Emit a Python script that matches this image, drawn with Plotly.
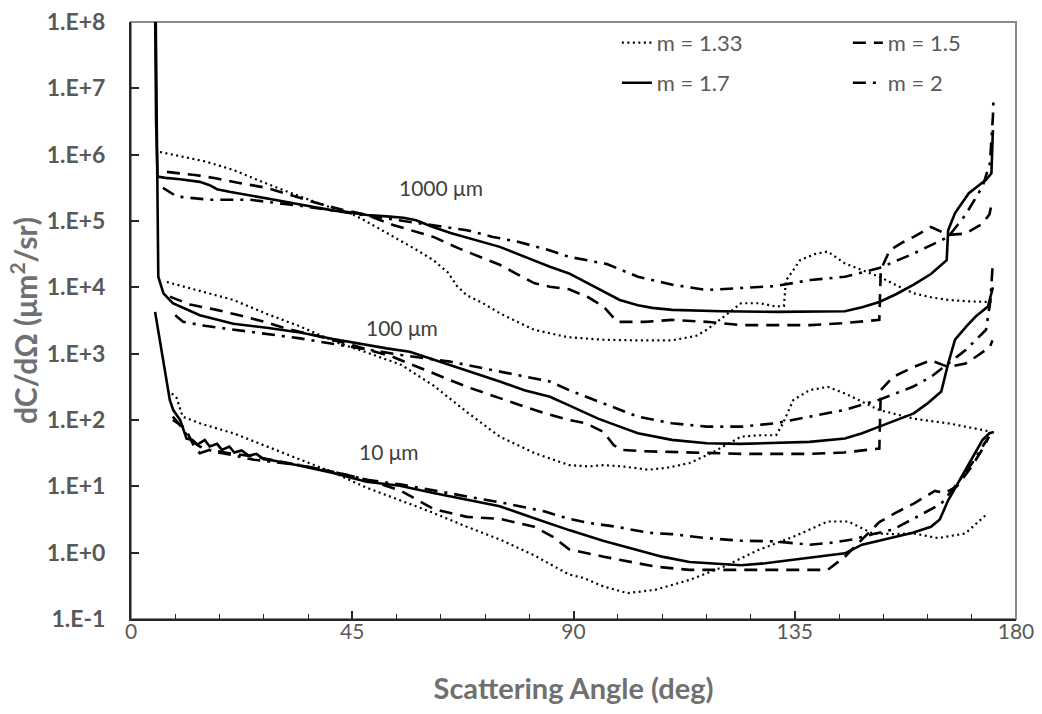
import plotly.graph_objects as go

# ---------------- data (angle in deg, log10 of dC/dΩ in µm²/sr) ----------------
# 1000 µm
ang_1000_m133 = [5.9, 10, 15, 20.8, 27, 34.4, 40, 44.5, 47, 51.3, 54.7, 58.2, 61.5, 64.5, 66.3, 68.3, 71.6, 75, 78, 82,
                 88.7, 96, 103, 110, 115, 117.1, 120.6, 124.1, 128, 131.2, 132.8, 133.2, 136.1, 139, 141.7, 145.2,
                 148.7, 152.2, 155.7, 159.2, 162.7, 166.2, 170, 173.9, 175]
lg_1000_m133 = [6.04, 5.98, 5.90, 5.77, 5.58, 5.37, 5.22, 5.12, 5.03, 4.85, 4.71, 4.56, 4.41, 4.22, 4.02, 3.88, 3.76,
                3.61, 3.50, 3.36, 3.25, 3.21, 3.20, 3.20, 3.27, 3.36, 3.56, 3.76, 3.76, 3.71, 3.72, 4.10, 4.41, 4.50,
                4.54, 4.36, 4.26, 4.16, 4.03, 3.91, 3.85, 3.81, 3.79, 3.78, 3.79]

ang_1000_m15 = [7.3, 13.4, 17.5, 21.5, 27.6, 32, 37.8, 43, 48, 53.3, 57, 61.5, 66.9, 71, 75, 78.5, 82.1, 85.2, 89.1,
                93, 96.1, 98.9, 104.5, 110.1, 117.1, 124.1, 131, 138.2, 145, 152.2, 152.5, 154.3, 157, 159.2, 162.7,
                166.2, 169.7, 173.2, 174.6, 175.2]
lg_1000_m15 = [5.74, 5.69, 5.64, 5.58, 5.50, 5.40, 5.27, 5.17, 5.09, 4.94, 4.86, 4.76, 4.58, 4.46, 4.34, 4.20, 4.06,
               4.01, 3.97, 3.85, 3.71, 3.48, 3.48, 3.51, 3.48, 3.43, 3.43, 3.43, 3.46, 3.51, 4.26, 4.56, 4.68, 4.76,
               4.91, 4.79, 4.81, 4.96, 5.10, 5.32]

ang_1000_m17 = [4.9, 5.1, 5.4, 7, 10, 14, 16, 17.5, 20, 25, 30, 34.4, 41, 44.5, 48, 52, 55.4, 58, 61, 65, 70, 75,
                81.8, 85.2, 89.1, 95, 99.4, 103.1, 106, 110.1, 120, 131.2, 140, 145.2, 148.7, 152.2, 155.7, 159.2,
                162.7, 165.9, 166.2, 167.6, 170.4, 173.9, 175.0, 175.3]
lg_1000_m17 = [8.3, 6.5, 5.67, 5.65, 5.63, 5.59, 5.54, 5.48, 5.44, 5.38, 5.31, 5.25, 5.16, 5.13, 5.09, 5.07, 5.05,
               5.01, 4.92, 4.82, 4.72, 4.61, 4.41, 4.31, 4.21, 3.98, 3.81, 3.73, 3.69, 3.66, 3.64, 3.63, 3.63, 3.64,
               3.70, 3.78, 3.90, 4.04, 4.20, 4.41, 4.86, 5.12, 5.42, 5.62, 5.72, 6.37]

ang_1000_m2 = [6.5, 9.3, 16, 24.2, 34.4, 44.5, 53, 61.5, 68.3, 73.6, 78.5, 84.6, 89.1, 96.8, 103.1, 110.1, 117.1,
               124.1, 131.2, 138.2, 145.2, 152.2, 159.2, 166.2, 169.7, 173.2, 174.7, 175.3, 175.4]
lg_1000_m2 = [5.50, 5.37, 5.32, 5.32, 5.23, 5.12, 5.03, 4.94, 4.86, 4.76, 4.69, 4.57, 4.46, 4.35, 4.16, 4.04, 3.96,
              3.99, 4.02, 4.11, 4.16, 4.29, 4.51, 4.76, 5.09, 5.52, 5.87, 6.57, 6.80]

# 100 µm
ang_100_m133 = [7.3, 14, 20.8, 27.6, 34.4, 42.5, 47.9, 55, 61.5, 68.3, 75, 82.1, 89.1, 93, 96.1, 100, 105.2, 109,
                113.6, 118.5, 124.1, 128, 131.2, 132.6, 134.7, 138, 141.7, 145.2, 152.2, 159.2, 166.2, 173.2, 174.5]
lg_100_m133 = [4.08, 3.95, 3.81, 3.60, 3.41, 3.15, 3.02, 2.83, 2.52, 2.12, 1.75, 1.50, 1.32, 1.30, 1.32, 1.30, 1.25,
               1.28, 1.35, 1.52, 1.75, 1.77, 1.77, 1.95, 2.30, 2.45, 2.50, 2.40, 2.15, 2.02, 1.95, 1.85, 1.83]

ang_100_m15 = [7.9, 12, 17.4, 22, 27.6, 31, 37.8, 45, 53.3, 60, 68.3, 75, 80, 85.2, 89.1, 92.5, 96.1, 98.2, 99.7,
               104, 110, 117, 124.1, 131, 138.2, 145, 150.7, 152.2, 152.5, 155, 159.2, 162.7, 166.2, 169.7, 171.8,
               174.7, 175.2]
lg_100_m15 = [3.86, 3.74, 3.66, 3.58, 3.47, 3.39, 3.27, 3.13, 2.95, 2.75, 2.50, 2.33, 2.20, 2.08, 2.00, 1.95, 1.82,
              1.62, 1.55, 1.53, 1.52, 1.50, 1.49, 1.49, 1.49, 1.51, 1.55, 1.57, 2.45, 2.65, 2.80, 2.90, 2.80, 2.85,
              2.95, 3.10, 3.20]

ang_100_m17 = [5.0, 5.3, 5.55, 6.6, 8.5, 14, 20.8, 27.6, 34.4, 41.1, 47.9, 52, 56.7, 62, 68.3, 75, 80, 85.2, 89.1,
               95, 99.4, 103.1, 110, 117.1, 124, 131.2, 138, 145.2, 148.7, 152.2, 155.7, 159.2, 162, 164.8, 166.2,
               167.6, 170, 171.8, 174.3, 175.3]
lg_100_m17 = [8.3, 5.2, 4.16, 3.91, 3.76, 3.58, 3.45, 3.39, 3.32, 3.22, 3.13, 3.08, 3.03, 2.90, 2.75, 2.58, 2.45,
              2.35, 2.22, 2.02, 1.90, 1.80, 1.70, 1.65, 1.64, 1.65, 1.67, 1.72, 1.80, 1.90, 2.00, 2.10, 2.25, 2.43,
              2.85, 3.21, 3.42, 3.56, 3.71, 4.00]

ang_100_m2 = [9, 10.6, 15, 20.8, 27, 34.4, 45, 55, 64.9, 75, 85.2, 89.1, 96, 103.1, 110, 117.1, 124.1, 131, 138, 145,
              152, 155.7, 159, 162.7, 166.2, 169.7, 173.9, 174.8, 175.3]
lg_100_m2 = [3.58, 3.48, 3.42, 3.36, 3.30, 3.23, 3.10, 2.98, 2.88, 2.73, 2.58, 2.45, 2.25, 2.05, 1.95, 1.90, 1.90,
             1.95, 2.05, 2.15, 2.30, 2.40, 2.50, 2.65, 2.85, 3.05, 3.36, 3.80, 4.39]

# 10 µm
ang_10_m133 = [8.3, 9.3, 10.5, 14, 20.8, 27.6, 34.4, 41.1, 47.9, 54.7, 61.5, 68.3, 75, 82, 89.1, 92, 96.1, 101,
               106.6, 113.6, 120.6, 127.6, 134.7, 141.7, 145.9, 150.8, 155, 159.2, 164.1, 169.7, 173.9]
lg_10_m133 = [2.40, 2.33, 2.05, 1.95, 1.80, 1.60, 1.41, 1.21, 0.98, 0.79, 0.60, 0.39, 0.20, -0.04, -0.33, -0.38,
              -0.51, -0.61, -0.56, -0.41, -0.21, 0.04, 0.24, 0.47, 0.47, 0.29, 0.28, 0.29, 0.22, 0.29, 0.57]

ang_10_m15 = [8.5, 11, 13, 14, 16, 20, 25, 34.4, 41.1, 47.9, 54.7, 61.5, 68.3, 75, 82, 85.8, 89.1, 96.1, 106.6,
              113.6, 124.1, 134.7, 141.7, 145.2, 152.2, 155.5, 159.2, 163.5, 165.5, 168, 171, 173.5, 174.5]
lg_10_m15 = [2.00, 1.88, 1.58, 1.50, 1.55, 1.50, 1.45, 1.32, 1.22, 1.10, 0.94, 0.66, 0.54, 0.51, 0.39, 0.24, 0.05,
             -0.06, -0.21, -0.26, -0.26, -0.26, -0.26, -0.06, 0.46, 0.60, 0.74, 0.93, 0.90, 1.00, 1.30, 1.60, 1.75]

ang_10_m17 = [4.9, 7.9, 8.6, 10, 11.3, 12.5, 13.5, 15, 16, 17.5, 18.5, 20, 21, 22.5, 24, 25.5, 27, 28.9, 34.4, 41.1,
              47.9, 54.7, 61.5, 68.3, 75, 82, 89.1, 96, 103.1, 108, 113.6, 119, 124.1, 129, 134.7, 140, 145.2,
              148.7, 152, 155.7, 159, 162.7, 164.5, 166.2, 169.7, 173.2, 174.6, 175.5]
lg_10_m17 = [3.63, 2.30, 2.15, 2.00, 1.72, 1.70, 1.63, 1.70, 1.60, 1.64, 1.55, 1.60, 1.51, 1.54, 1.46, 1.49, 1.41,
             1.39, 1.31, 1.20, 1.07, 1.01, 0.90, 0.80, 0.70, 0.52, 0.34, 0.18, 0.04, -0.06, -0.14, -0.17, -0.19,
             -0.16, -0.11, -0.06, -0.01, 0.12, 0.18, 0.24, 0.30, 0.39, 0.50, 0.79, 1.25, 1.70, 1.80, 1.82]

ang_10_m2 = [8.5, 10, 12, 14, 17, 20, 25, 34.4, 41.1, 47.9, 54.7, 61.5, 68.3, 76.4, 84.2, 88.6, 93, 98.8, 105.2,
             110, 117, 124, 131, 138, 142.5, 146.9, 151, 155, 160.6, 164.8, 167.6, 171.1, 173.2, 174.2]
lg_10_m2 = [2.05, 1.92, 1.70, 1.60, 1.52, 1.48, 1.40, 1.32, 1.22, 1.10, 1.03, 0.94, 0.84, 0.74, 0.62, 0.52, 0.45,
            0.39, 0.30, 0.28, 0.22, 0.18, 0.17, 0.12, 0.15, 0.20, 0.28, 0.35, 0.57, 0.74, 1.00, 1.35, 1.60, 1.72]

series_names = ["m = 1.33", "m = 1.5", "m = 1.7", "m = 2"]
size_labels = ["1000 μm", "100 μm", "10 μm"]
y_tick_vals = [1e-1, 1e0, 1e1, 1e2, 1e3, 1e4, 1e5, 1e6, 1e7, 1e8]
y_tick_text = ["1.E-1", "1.E+0", "1.E+1", "1.E+2", "1.E+3", "1.E+4", "1.E+5", "1.E+6", "1.E+7", "1.E+8"]
x_tick_vals = [0, 45, 90, 135, 180]

# ---------------- styling ----------------
styles = {
    "m = 1.33": dict(dash="2px,3.5px", width=2.2),
    "m = 1.5": dict(dash="13px,8px", width=2.6),
    "m = 1.7": dict(dash="solid", width=2.6),
    "m = 2": dict(dash="13px,7px,3px,7px", width=2.6),
}
legend_of = {"m = 1.33": "legend", "m = 1.5": "legend", "m = 1.7": "legend2", "m = 2": "legend2"}

families = {
    "1000": [(ang_1000_m133, lg_1000_m133), (ang_1000_m15, lg_1000_m15),
             (ang_1000_m17, lg_1000_m17), (ang_1000_m2, lg_1000_m2)],
    "100": [(ang_100_m133, lg_100_m133), (ang_100_m15, lg_100_m15),
            (ang_100_m17, lg_100_m17), (ang_100_m2, lg_100_m2)],
    "10": [(ang_10_m133, lg_10_m133), (ang_10_m15, lg_10_m15),
           (ang_10_m17, lg_10_m17), (ang_10_m2, lg_10_m2)],
}

fig = go.Figure()
for fam_i, (fam, lst) in enumerate(families.items()):
    for name, (xs, lgs) in zip(series_names, lst):
        st = styles[name]
        fig.add_trace(go.Scatter(
            x=xs, y=[10 ** v for v in lgs], mode="lines", name=name,
            legendgroup=name, showlegend=(fam_i == 0), legend=legend_of[name],
            line=dict(color="black", width=st["width"], dash=st["dash"]),
            hoverinfo="skip",
        ))

FONT = "Lato, 'Open Sans', sans-serif"
GRAY = "#595959"

# frame
fig.add_shape(type="rect", xref="paper", yref="paper", x0=0, y0=0, x1=1, y1=1,
              line=dict(color="#8a8a8a", width=2), layer="below")

# size labels
label_pos = [(63.1, 5.50), (55.1, 3.40), (52.5, 1.52)]
for txt, (lx, ly) in zip(size_labels, label_pos):
    fig.add_annotation(x=lx, y=ly, text=txt, showarrow=False,
                       font=dict(family=FONT, size=21, color="#404040"))

fig.update_layout(
    width=1042, height=714,
    margin=dict(l=131, r=26, t=22, b=95, autoexpand=False),
    paper_bgcolor="white", plot_bgcolor="white",
    font=dict(family=FONT, color=GRAY),
    legend=dict(orientation="h", x=0.549, y=0.965, xanchor="left", yanchor="middle",
                entrywidth=186, entrywidthmode="pixels", bgcolor="rgba(0,0,0,0)",
                font=dict(family=FONT, size=22, color=GRAY), itemwidth=30),
    legend2=dict(orientation="h", x=0.549, y=0.898, xanchor="left", yanchor="middle",
                 entrywidth=186, entrywidthmode="pixels", bgcolor="rgba(0,0,0,0)",
                 font=dict(family=FONT, size=22, color=GRAY), itemwidth=30),
    xaxis=dict(range=[0, 180], tickvals=x_tick_vals, ticks="inside", ticklen=8, tickwidth=1.5,
               tickcolor="#262626", showline=True, linecolor="#262626", linewidth=2,
               showgrid=False, zeroline=False, ticklabelstandoff=-7,
               tickfont=dict(family=FONT, size=21, color=GRAY),
               minor=dict(dtick=9, tick0=0, ticks="inside", ticklen=5, tickwidth=1.2, tickcolor="#262626",
                          showgrid=False),
               title=dict(text="<b>Scattering Angle (deg)</b>", standoff=36,
                          font=dict(family=FONT, size=29, color="#707070"))),
    yaxis=dict(type="log", range=[-1, 8], tickvals=y_tick_vals, ticktext=y_tick_text,
               ticks="inside", ticklen=8, tickwidth=1.5, tickcolor="#262626",
               showline=True, linecolor="#262626", linewidth=2, showgrid=False, zeroline=False,
               ticklabelstandoff=19,
               tickfont=dict(family=FONT, size=23, color=GRAY, weight="bold"),
               title=dict(text="<b>dC/dΩ (μm<sup>2</sup>/sr)</b>", standoff=0,
                          font=dict(family=FONT, size=30, color="#707070"))),
)

fig.write_html("out.html")
